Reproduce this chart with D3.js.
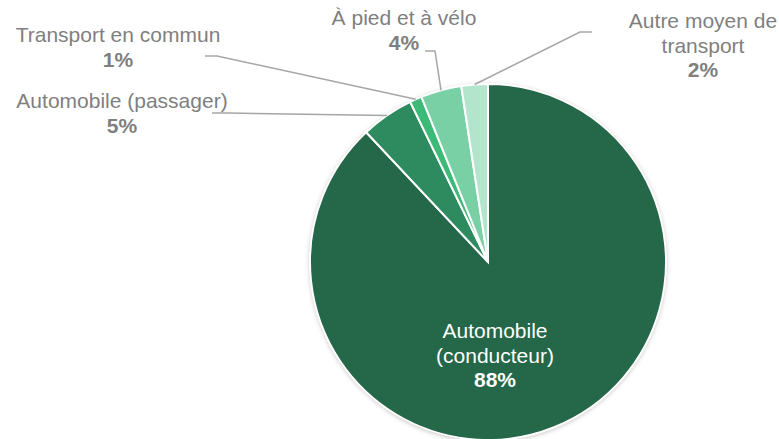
<!DOCTYPE html>
<html>
<head>
<meta charset="utf-8">
<script src="https://cdn.jsdelivr.net/npm/d3@7"></script>
<style>
body{margin:0;background:#fff;}
svg{display:block;font-family:"Liberation Sans",Arial,sans-serif;}
</style>
</head>
<body>
<div id="chart"></div>
<script>
let categories=["Automobile (conducteur)","Automobile (passager)","Transport en commun","À pied et à vélo","Autre moyen de transport"];
let values=[88.0,4.8,1.1,3.7,2.4];
let colors=["#246749","#2e8b5f","#3dba77","#79d0a4","#b3e5cc"];

let width=779, height=439;
let cx=488, cy=262, radius=178;

let svg=d3.select("#chart").append("svg")
.attr("width",width)
.attr("height",height);

let defs=svg.append("defs");
let f=defs.append("filter").attr("id","shadow")
.attr("x","-10%").attr("y","-10%").attr("width","120%").attr("height","120%");
f.append("feDropShadow")
.attr("dx",0).attr("dy",1)
.attr("stdDeviation",2.5)
.attr("flood-color","#000")
.attr("flood-opacity",0.3);

let pie=d3.pie().sort(null).value(d=>d)(values);
let arc=d3.arc().innerRadius(0).outerRadius(radius);

let g=svg.append("g").attr("transform","translate("+cx+","+cy+")");

g.append("circle").attr("r",radius).attr("fill","#fff").attr("filter","url(#shadow)");

g.selectAll("path.slice")
.data(pie)
.enter()
.append("path")
.attr("class","slice")
.attr("d",arc)
.attr("fill",(d,i)=>colors[i])
.attr("stroke","#fff")
.attr("stroke-width",2);

// outside labels: [lines of text, x center, first baseline, elbow points]
let outside=[
  null,
  {lines:["Automobile (passager)"],x:122,y:108,elbow:[[212,113],[228,113]]},
  {lines:["Transport en commun"],x:118,y:42,elbow:[[205,56],[217,56]]},
  {lines:["À pied et à vélo"],x:404,y:25,elbow:[[425,51],[435,51]]},
  {lines:["Autre moyen de","transport"],x:703,y:28,elbow:[[592,32],[580,32]]}
];

function edgePoint(d){
  let a=(d.startAngle+d.endAngle)/2;
  return [cx+radius*Math.sin(a),cy-radius*Math.cos(a)];
}

let lineGen=d3.line();
let grey="#7f7f7f";

pie.forEach(function(d,i){
  let lab=outside[i];
  let pct=Math.round(values[i])+"%";
  if(!lab){
    let t=svg.append("text")
    .attr("text-anchor","middle")
    .attr("fill","#fff")
    .attr("font-size",21);
    let parts=["Automobile","(conducteur)"];
    parts.forEach(function(p,k){
      t.append("tspan").attr("x",495).attr("y",338+k*24.5).text(p);
    });
    t.append("tspan").attr("x",495).attr("y",338+2*24.5).attr("font-weight","bold").text(pct);
    return;
  }
  let pts=lab.elbow.concat([edgePoint(d)]);
  svg.append("path")
  .attr("d",lineGen(pts))
  .attr("fill","none")
  .attr("stroke","#a6a6a6")
  .attr("stroke-width",1.5);

  let t=svg.append("text")
  .attr("text-anchor","middle")
  .attr("fill",grey)
  .attr("font-size",21);
  lab.lines.forEach(function(p,k){
    t.append("tspan").attr("x",lab.x).attr("y",lab.y+k*24.5).text(p);
  });
  t.append("tspan").attr("x",lab.x).attr("y",lab.y+lab.lines.length*24.5)
  .attr("font-weight","bold").text(pct);
});
</script>
</body>
</html>
